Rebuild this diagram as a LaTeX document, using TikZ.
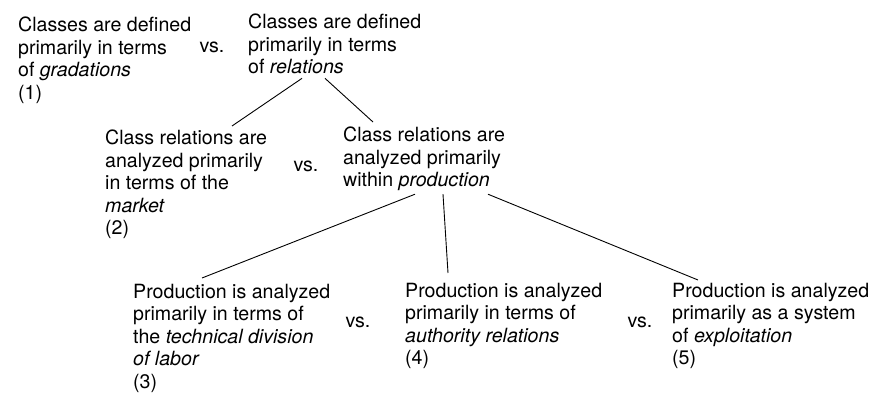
\documentclass[tikz,border=0pt]{standalone}
\usepackage{fontspec}
\setmainfont{TeX Gyre Heros}
\usetikzlibrary{positioning}
\tikzset{
  txt/.style = {anchor=north west, inner sep=0pt, align=left,
                font=\fontsize{19.6}{22.5}\selectfont},
  vsl/.style = {inner sep=0pt, font=\fontsize{19.6}{22.5}\selectfont},
  ln/.style  = {line width=0.9pt, black}
}

\begin{document}
\begin{tikzpicture}[x=1pt, y=-1pt]
    \useasboundingbox (0,0) rectangle (886,395);
    % first level
    \node[txt](n1) at (18,17)  {Classes are defined\\primarily in terms\\of \textit{gradations}\\(1)};
    \node[vsl](v1) at (212,47) {vs.};
    \node[txt](n2) at (248,14) {Classes are defined\\primarily in terms\\of \textit{relations}};
    % second level
    \node[txt](n3) at (105,130) {Class relations are\\analyzed primarily\\in terms of the\\\textit{market}\\(2)};
    \node[vsl](v2) at (306,166) {vs.};
    \node[txt](n4) at (343,127) {Class relations are\\analyzed primarily\\within \textit{production}};
    % third level
    \node[txt](n5) at (133,284) {Production is analyzed\\primarily in terms of\\the \textit{technical division}\\\textit{of labor}\\(3)};
    \node[vsl](v3) at (358,322) {vs.};
    \node[txt](n6) at (405,283) {Production is analyzed\\primarily in terms of\\\textit{authority relations}\\(4)};
    \node[vsl](v4) at (640,322) {vs.};
    \node[txt](n7) at (672,283) {Production is analyzed\\primarily as a system\\of \textit{exploitation}\\(5)};
    % branches
    \draw[ln] ([xshift=54,yshift=-4]n2.south west) -- ([xshift=127,yshift=4]n3.north west);
    \draw[ln] ([xshift=77,yshift=-4]n2.south west) -- ([xshift=30,yshift=5]n4.north west);
    \draw[ln] ([xshift=72,yshift=-3]n4.south west) -- ([xshift=69,yshift=6]n5.north west);
    \draw[ln] ([xshift=100,yshift=-3]n4.south west) -- ([xshift=43,yshift=10]n6.north west);
    \draw[ln] ([xshift=145,yshift=-3]n4.south west) -- ([xshift=26,yshift=3]n7.north west);
\end{tikzpicture}
\end{document}
